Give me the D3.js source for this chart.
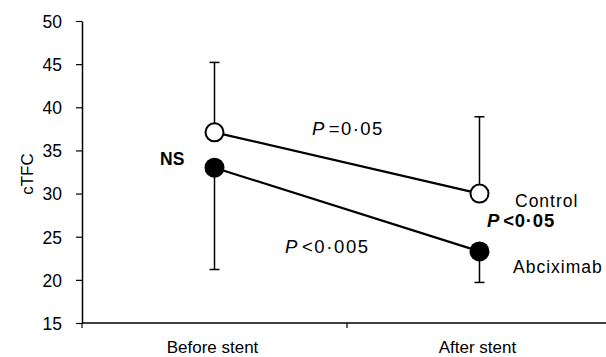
<head>
    <script src="https://d3js.org/d3.v7.min.js"></script>
    <style>
        body { margin: 0; background: #fff; }
        text { font-family: "Liberation Sans", Arial, sans-serif; fill: #000; }
    </style>
</head>

<body>
    <div id="chart"></div>
</body>

<script>
    // data
    let phases = ["Before stent", "After stent"];
    let controlMean = [37.1, 30.0];
    let controlUpper = [45.2, 38.9];
    let abcMean = [33.0, 23.3];
    let abcLower = [21.2, 19.7];
    let yTicks = [15, 20, 25, 30, 35, 40, 45, 50];

    let width = 606, height = 357;
    let svg = d3.select("#chart")
        .append("svg")
        .attr("width", width)
        .attr("height", height);

    let x = d3.scaleBand().domain(phases).range([82, 612]);
    let y = d3.scaleLinear().domain([15, 50]).range([323, 21]);
    let cx = function (d, i) { return x(phases[i]) + x.bandwidth() / 2; };

    // y axis
    let yAxis = svg.append("g")
        .attr("transform", "translate(82,0)")
        .call(d3.axisLeft(y).tickValues(yTicks).tickSize(6).tickPadding(14).tickSizeOuter(0));
    yAxis.select(".domain").attr("stroke-width", 1.5);
    yAxis.selectAll("line").attr("stroke-width", 1.2);
    yAxis.selectAll("text").style("font-size", "17.5px").attr("dy", "0.36em");

    // x axis, ticks on band boundaries
    let xAxis = svg.append("g")
        .attr("transform", "translate(0,323)");
    xAxis.append("line")
        .attr("x1", 82).attr("x2", 612)
        .attr("stroke", "#000").attr("stroke-width", 1.5);
    xAxis.selectAll(".bt")
        .data(phases)
        .enter()
        .append("line")
        .attr("x1", function (d) { return x(d); })
        .attr("x2", function (d) { return x(d); })
        .attr("y1", 0).attr("y2", 5)
        .attr("stroke", "#000").attr("stroke-width", 1.2);
    xAxis.selectAll(".lab")
        .data(phases)
        .enter()
        .append("text")
        .attr("x", function (d) { return x(d) + x.bandwidth() / 2 - 2; })
        .attr("y", 30)
        .attr("text-anchor", "middle")
        .style("font-size", "17px")
        .text(function (d) { return d; });

    svg.append("text")
        .attr("transform", "translate(33,174) rotate(-90)")
        .attr("text-anchor", "middle")
        .style("font-size", "17px")
        .text("cTFC");

    // error bars (one-sided)
    function errBars(mean, bound) {
        let g = svg.append("g").attr("stroke", "#000").attr("stroke-width", 1.5);
        g.selectAll(".v").data(mean).enter().append("line")
            .attr("x1", cx).attr("x2", cx)
            .attr("y1", function (d) { return y(d); })
            .attr("y2", function (d, i) { return y(bound[i]); });
        g.selectAll(".c").data(bound).enter().append("line")
            .attr("x1", function (d, i) { return cx(d, i) - 5; })
            .attr("x2", function (d, i) { return cx(d, i) + 5; })
            .attr("y1", function (d) { return y(d); })
            .attr("y2", function (d) { return y(d); });
    }
    errBars(controlMean, controlUpper);
    errBars(abcMean, abcLower);

    let line = d3.line().x(function (d, i) { return cx(d, i); }).y(function (d) { return y(d); });
    [controlMean, abcMean].forEach(function (s) {
        svg.append("path").datum(s)
            .attr("d", line)
            .attr("fill", "none")
            .attr("stroke", "#000")
            .attr("stroke-width", 2.2);
    });

    svg.selectAll(".ctl").data(controlMean).enter().append("circle")
        .attr("cx", cx).attr("cy", function (d) { return y(d); })
        .attr("r", 9)
        .attr("fill", "#fff").attr("stroke", "#000").attr("stroke-width", 2);
    svg.selectAll(".abc").data(abcMean).enter().append("circle")
        .attr("cx", cx).attr("cy", function (d) { return y(d); })
        .attr("r", 10)
        .attr("fill", "#000");

    // annotations
    function pText(px, py, rest, bold, ls) {
        let t = svg.append("text")
            .attr("x", px).attr("y", py)
            .style("font-size", "18.5px")
            .style("letter-spacing", ls + "px")
            .style("font-weight", bold ? "bold" : "normal");
        t.append("tspan").style("font-style", "italic").text("P");
        t.append("tspan").attr("dx", 3).text(rest);
    }
    pText(312, 135, "=0·05", false, 1.4);
    pText(285, 253, "<0·005", false, 1.6);
    pText(487, 227, "<0·05", true, 0.8);

    svg.append("text").attr("x", 160).attr("y", 165)
        .style("font-size", "17.5px").style("font-weight", "bold").text("NS");
    svg.append("text").attr("x", 515).attr("y", 207)
        .style("font-size", "17.5px").style("letter-spacing", "1px").text("Control");
    svg.append("text").attr("x", 513).attr("y", 273)
        .style("font-size", "17.5px").style("letter-spacing", "1px").text("Abciximab");
</script>
